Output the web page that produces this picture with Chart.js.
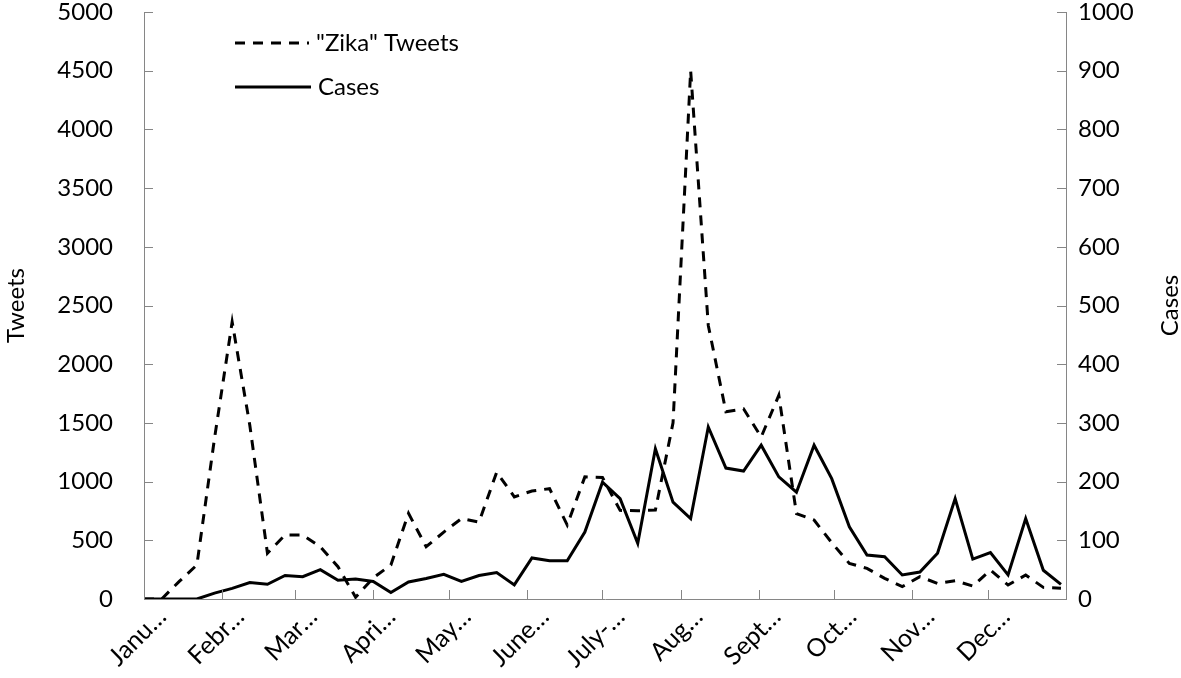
<!DOCTYPE html>
<html>
<head>
<meta charset="utf-8">
<script src="https://cdn.jsdelivr.net/npm/chart.js@4"></script>
<style>
  body { margin: 0; background: #fff; }
  canvas { display: block; }
</style>
</head>
<body>
<canvas id="chart" width="1181" height="678"></canvas>
<script>
// weekly observations, day-of-year offsets
const weekDays = [0, 7, 14, 21, 28, 35, 42, 49, 56, 63, 70, 77, 84, 91, 98, 105, 112, 119, 126,
  133, 140, 147, 154, 161, 168, 175, 182, 189, 196, 203, 210, 217, 224, 231, 238, 245, 252,
  259, 266, 273, 280, 287, 294, 301, 308, 315, 322, 329, 336, 343, 350, 357, 364];

const tweets = [0, 0, 150, 290, 1370, 2360, 1480, 390, 545, 545, 445, 275, 15, 180, 290, 730,
  445, 570, 685, 655, 1080, 870, 920, 940, 630, 1040, 1035, 755, 752, 757, 1500, 4500, 2330,
  1595, 1620, 1380, 1735, 728, 672, 480, 303, 261, 176, 105, 190, 133, 156, 110, 246, 119,
  204, 99, 92];

const cases = [0, 0, 0, 0, 10, 18, 28, 25, 40, 38, 50, 32, 34, 30, 11, 29, 35, 42, 30, 40, 45,
  24, 70, 65, 65, 114, 199, 171, 95, 256, 165, 137, 293, 223, 218, 262, 208, 182, 262, 205,
  123, 75, 72, 41, 46, 78, 171, 68, 79, 41, 137, 49, 25];

// month starts (day of year, 2016) and their truncated labels
const monthDays = [0, 31, 60, 91, 121, 152, 182, 213, 244, 274, 305, 335];
const monthLabels = ["Janu\u2026", "Febr\u2026", "Mar\u2026", "Apri\u2026", "May\u2026", "June\u2026",
  "July-\u2026", "Aug\u2026", "Sept\u2026", "Oct\u2026", "Nov\u2026", "Dec\u2026"];

const FONT = "Lato";
const AXIS_GREY = "#868686";

// small inward tick marks, the legend in the plot and the right-hand title
const extras = {
  id: "extras",
  afterDraw(chart) {
    const c = chart.ctx;
    const {x, y, y1} = chart.scales;
    c.save();
    c.strokeStyle = AXIS_GREY;
    c.lineWidth = 1;
    c.beginPath();
    x.ticks.forEach(t => {
      const px = Math.round(x.getPixelForValue(t.value)) + 0.5;
      c.moveTo(px, x.top); c.lineTo(px, x.top - 9);
    });
    y.ticks.forEach(t => {
      const py = Math.round(y.getPixelForValue(t.value)) + 0.5;
      c.moveTo(y.right, py); c.lineTo(y.right + 9, py);
    });
    y1.ticks.forEach(t => {
      const py = Math.round(y1.getPixelForValue(t.value)) + 0.5;
      c.moveTo(y1.left, py); c.lineTo(y1.left - 9, py);
    });
    c.stroke();

    // legend
    const items = chart.data.datasets;
    c.font = "24px " + FONT;
    c.fillStyle = "#000";
    c.textBaseline = "middle";
    const rows = [43, 87];
    items.forEach((ds, i) => {
      const ly = rows[i];
      c.strokeStyle = ds.borderColor;
      c.lineWidth = ds.borderWidth;
      c.setLineDash(ds.borderDash || []);
      c.beginPath();
      c.moveTo(235, ly); c.lineTo(i === 0 ? 309 : 311, ly);
      c.stroke();
      c.setLineDash([]);
      c.fillText(ds.label, i === 0 ? 316 : 318, ly);
    });

    // right axis title, reading bottom to top
    c.translate(1170, (y1.top + y1.bottom) / 2);
    c.rotate(-Math.PI / 2);
    c.textAlign = "center";
    c.fillText("Cases", 0, 0);
    c.restore();
  }
};

// keep the plot area where the reference has it
function fixWidth(w) {
  return scale => {
    scale.width = w;
    scale.paddingTop = 0;
    scale.paddingBottom = 0;
  };
}

new Chart(document.getElementById("chart"), {
  type: "line",
  data: {
    datasets: [
      {
        label: "\"Zika\" Tweets",
        data: weekDays.map((d, i) => ({x: d, y: tweets[i]})),
        borderColor: "#000",
        borderWidth: 3,
        borderDash: [10, 8],
        yAxisID: "y",
      },
      {
        label: "Cases",
        data: weekDays.map((d, i) => ({x: d, y: cases[i]})),
        borderColor: "#000",
        borderWidth: 3,
        yAxisID: "y1",
      },
    ],
  },
  options: {
    responsive: false,
    animation: false,
    layout: {padding: {top: 12, left: 0, right: 0, bottom: 0}},
    elements: {
      point: {radius: 0},
      line: {tension: 0, borderCapStyle: "butt"},
    },
    plugins: {
      legend: {display: false},
      tooltip: {enabled: false},
    },
    scales: {
      x: {
        type: "linear",
        min: 0,
        max: 366,
        grid: {display: false, drawTicks: false},
        border: {color: AXIS_GREY, width: 1},
        afterBuildTicks: scale => {
          scale.ticks = monthDays.map(v => ({value: v}));
        },
        afterFit: scale => {
          scale.height = 79;
          scale.paddingLeft = 0;
          scale.paddingRight = 0;
        },
        ticks: {
          autoSkip: false,
          minRotation: 45,
          maxRotation: 45,
          padding: 3,
          labelOffset: 18,
          color: "#000",
          font: {family: FONT, size: 25},
          callback: (v) => monthLabels[monthDays.indexOf(v)],
        },
      },
      y: {
        position: "left",
        min: 0,
        max: 5000,
        grid: {display: false, drawTicks: false},
        border: {color: AXIS_GREY, width: 1},
        afterFit: fixWidth(144),
        ticks: {
          stepSize: 500,
          padding: 31,
          color: "#000",
          font: {family: FONT, size: 24},
          callback: v => String(v),
        },
        title: {
          display: true,
          text: "Tweets",
          color: "#000",
          padding: {top: 2, bottom: 0},
          font: {family: FONT, size: 24},
        },
      },
      y1: {
        position: "right",
        min: 0,
        max: 1000,
        grid: {display: false, drawTicks: false},
        border: {color: AXIS_GREY, width: 1},
        afterFit: fixWidth(115),
        ticks: {
          stepSize: 100,
          padding: 12,
          color: "#000",
          font: {family: FONT, size: 24},
          callback: v => String(v),
        },
      },
    },
  },
  plugins: [extras],
});
</script>
</body>
</html>
